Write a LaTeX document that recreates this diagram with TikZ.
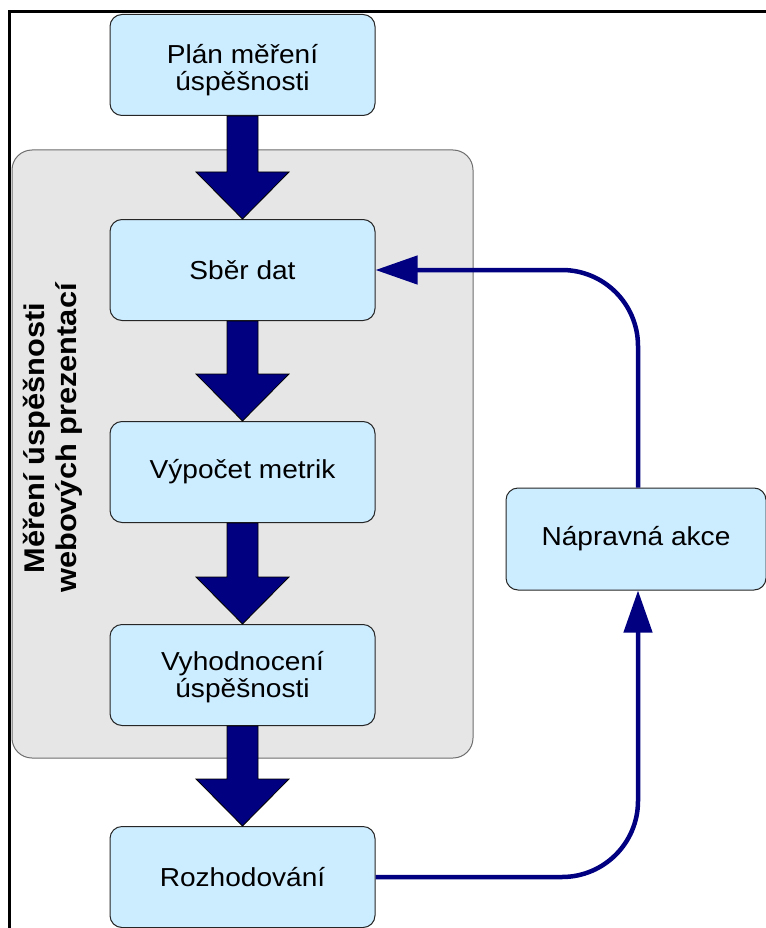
\documentclass[tikz,border=0pt]{standalone}
\usepackage{fontspec}
\setmainfont{Liberation Sans}[FakeStretch=1.08]
\usetikzlibrary{calc,arrows.meta}
\definecolor{boxblue}{RGB}{204,236,255}
\definecolor{panelgray}{RGB}{230,230,230}
\definecolor{paneledge}{RGB}{110,110,110}
\definecolor{navy}{RGB}{0,0,128}

% thick block arrow from the bottom of one stage to the top of the next
\newcommand\flowarrow[2]{%
  \filldraw[bigarrow]
    ($(#1.south)+(-15.5,0)$) -- ($(#2.north)+(-15.5,-47)$) --
    ($(#2.north)+(-46.5,-47)$) -- (#2.north) --
    ($(#2.north)+(46.5,-47)$) -- ($(#2.north)+(15.5,-47)$) --
    ($(#1.south)+(15.5,0)$) -- cycle;}

\begin{document}
\begin{tikzpicture}[x=1pt,y=-1pt,
  stage/.style={draw=black!85, line width=1pt, fill=boxblue,
    rounded corners=12pt, minimum width=265pt, minimum height=101pt,
    align=center, inner sep=0pt,
    font=\fontsize{26}{27.5}\selectfont},
  panel/.style={draw=paneledge, line width=1pt, fill=panelgray,
    rounded corners=20pt, inner sep=0pt},
  bigarrow/.style={fill=navy, draw=black, line width=0.8pt},
  loopline/.style={draw=navy, line width=4.5pt, rounded corners=76pt,
    -{Triangle[length=42pt,width=28pt]}},
]
\useasboundingbox (0,0) rectangle (765,928);

% frame edges
\draw[line width=3pt] (9.7,930) -- (9.7,11.2) -- (770,11.2);

% grouping panel
\node[panel, minimum width=461pt, minimum height=608pt] (panel) at (242.5,454) {};
\node[rotate=90, align=center, font=\bfseries\fontsize{28.5}{32}\selectfont]
  (paneltitle) at (53,438) {Měření úspěšnosti\\webových prezentací};

% stages
\node[stage] (plan)    at (242.5,65)  {};
\node[align=center, font=\fontsize{26}{27.5}\selectfont, anchor=center]
  (plantext) at (242.5,70) {Plán měření\\úspěšnosti};
\node[stage] (sber)    at (242.5,270) {Sběr dat};
\node[stage] (vypocet) at (242.5,472) {Výpočet metrik};
\node[stage] (vyhod)   at (242.5,675) {};
\node[align=center, font=\fontsize{26}{27.5}\selectfont, anchor=center]
  (vyhodtext) at (242.5,677) {Vyhodnocení\\úspěšnosti};
\node[stage] (rozh)    at (242.5,877) {Rozhodování};
\node[stage, minimum width=260pt, minimum height=102pt] (naprav) at (636,539) {Nápravná akce};

% main flow
\flowarrow{plan}{sber}
\flowarrow{sber}{vypocet}
\flowarrow{vypocet}{vyhod}
\flowarrow{vyhod}{rozh}

% feedback loop
\draw[loopline] (rozh.east) -| ([xshift=2pt]naprav.south);
\draw[loopline] ([xshift=2pt]naprav.north) |- (sber.east);
\end{tikzpicture}
\end{document}
